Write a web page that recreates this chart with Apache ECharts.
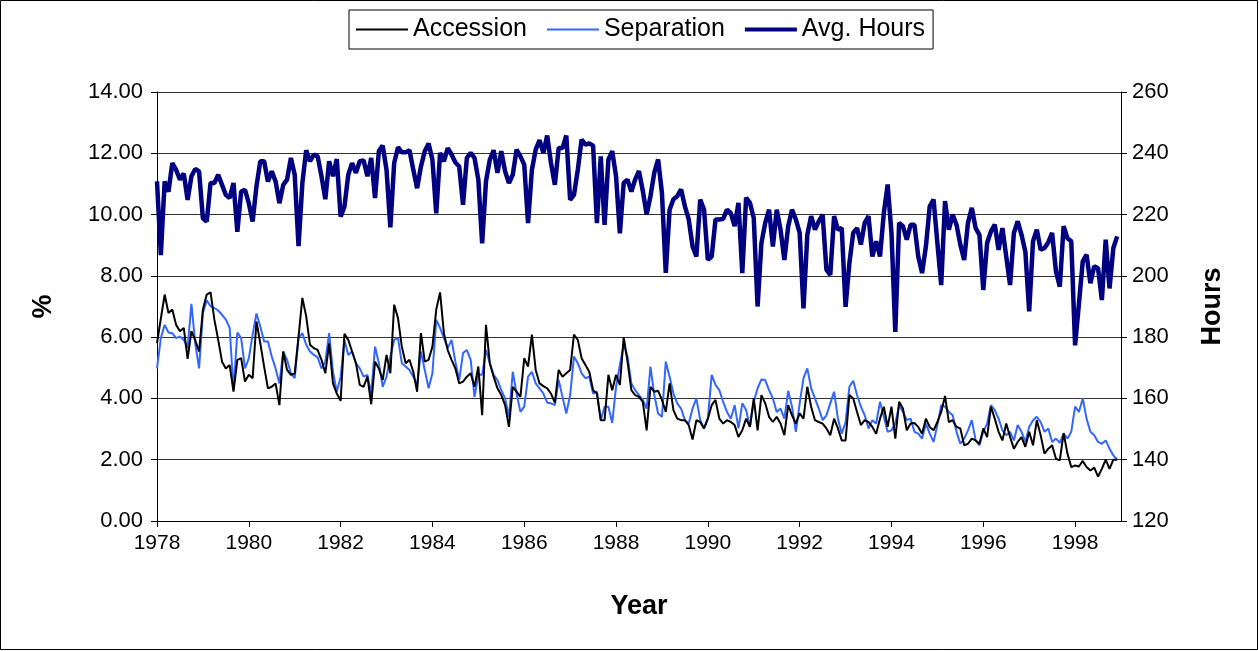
<!DOCTYPE html>
<html>
<head>
<meta charset="utf-8">
<script src="https://cdn.jsdelivr.net/npm/echarts@6/dist/echarts.min.js"></script>
<style>
html,body{margin:0;padding:0;background:#fff;}
#c{width:1259px;height:651px;}
</style>
</head>
<body>
<div id="c"></div>
<script>
// Monthly data, Jan 1978 .. Dec 1998
const startYear = 1978;
const xTickLabels = ['1978','1980','1982','1984','1986','1988','1990','1992','1994','1996','1998'];
const seriesNames = ['Accession','Separation','Avg. Hours'];

const accession = [
5.8,6.6,7.39,6.79,6.9,6.4,6.19,6.3,5.29,6.2,
5.9,5.53,6.9,7.39,7.46,6.57,5.91,5.2,4.98,5.09,
4.22,5.26,5.31,4.55,4.77,4.66,6.51,5.8,5.04,4.33,
4.38,4.49,3.78,5.53,4.93,4.77,4.82,6.02,7.28,6.68,
5.75,
5.64,5.58,5.26,4.82,5.8,4.49,4.16,3.92,6.11,5.91,
5.53,5.15,4.44,4.38,4.71,3.81,5.2,4.98,4.6,5.42,
4.82,7.06,6.62,5.69,5.15,5.26,4.87,4.22,6.13,5.2,
5.26,5.69,6.9,7.46,6.13,5.58,5.26,4.98,4.49,4.55,
4.71,4.82,4.38,
5.04,3.45,6.4,5.15,4.71,4.33,4.11,3.78,3.07,4.38,
4.22,4.05,5.31,5.04,6.08,4.93,4.49,4.4,4.33,4.16,
3.86,4.93,4.71,4.82,4.93,6.08,5.91,5.31,5.09,4.87,
4.27,4.16,3.29,3.29,4.77,4.27,4.77,4.44,6.0,5.2,
4.27,4.11,4.05,3.89,2.96,4.38,4.22,4.25,3.95,3.56,
4.49,3.62,3.34,3.29,3.29,3.13,2.66,3.29,3.23,3.02,
3.34,3.78,3.95,3.34,3.18,3.29,3.23,3.13,2.74,2.96,
3.34,3.07,4.0,2.96,4.11,3.84,3.4,3.23,3.4,3.18,
2.8,3.78,3.45,
3.18,3.51,3.34,4.38,3.73,3.29,3.23,3.18,3.02,2.8,
3.34,3.02,2.63,2.63,4.11,4.0,3.56,3.13,3.29,3.23,
3.07,2.85,3.34,3.73,3.07,3.73,2.69,3.89,3.67,2.96,
3.18,3.2,3.07,2.85,3.34,3.07,2.96,3.23,3.56,4.08,
3.23,3.29,
3.07,3.02,2.47,2.52,2.69,2.63,2.52,3.02,2.74,3.73,
3.34,2.91,2.63,3.18,2.74,2.36,2.58,2.74,2.42,2.91,
2.47,3.29,2.8,2.2,2.36,2.47,2.03,1.98,2.87,2.2,
1.76,1.81,1.78,1.96,1.76,1.65,1.74,1.45,1.7,2.0,
1.7,2.0,2.0
];

const separation = [
4.98,5.97,6.4,6.15,6.13,5.97,6.02,5.91,5.64,7.09,
5.8,4.98,6.79,7.2,7.01,6.95,6.87,6.73,6.57,6.3,
4.27,6.15,5.97,4.98,5.31,6.08,6.77,6.35,5.86,5.86,
5.37,4.98,4.49,5.53,5.26,4.82,4.66,5.97,6.13,5.75,
5.53,
5.42,5.34,4.98,5.2,6.13,4.87,4.22,4.71,5.91,5.42,
5.53,5.15,4.98,4.71,4.77,4.16,5.69,5.15,4.38,4.71,
5.37,5.91,5.97,5.15,5.04,4.93,4.71,4.44,5.53,4.93,
4.33,4.82,6.57,6.3,5.97,5.64,5.91,5.2,4.6,5.48,
5.58,5.26,4.05,
4.77,4.77,5.58,5.15,4.77,4.6,4.27,4.0,3.4,4.87,
4.16,3.56,3.73,4.71,4.87,4.49,4.33,4.16,3.86,3.84,
3.78,4.6,4.05,3.51,4.11,5.37,5.15,4.82,4.66,4.71,
4.16,4.22,3.29,3.73,3.73,3.2,4.38,5.09,5.75,5.37,
4.49,4.27,4.11,3.95,3.67,5.04,4.11,3.51,3.4,5.2,
4.71,4.16,3.84,3.67,3.29,3.18,3.67,4.0,3.29,3.02,
3.34,4.77,4.44,4.27,3.89,3.56,3.34,3.78,3.02,3.84,
3.62,3.07,3.89,4.33,4.62,4.6,4.27,4.0,3.56,3.67,
3.34,4.25,3.73,
2.91,3.84,4.66,4.98,4.33,4.0,3.67,3.29,3.45,3.84,
4.22,3.34,2.85,3.23,4.38,4.58,4.11,3.73,3.45,3.02,
3.29,3.18,3.89,3.4,2.91,2.96,3.18,3.78,3.56,3.29,
3.34,2.91,2.85,2.69,3.18,2.85,2.58,3.13,3.78,3.73,
3.56,3.45,
2.91,2.52,2.69,2.96,3.29,2.63,2.47,2.91,3.18,3.78,
3.62,3.34,2.96,2.8,2.91,2.63,3.13,2.91,2.58,3.07,
3.29,3.4,3.23,2.91,3.02,2.58,2.69,2.55,2.85,2.69,
2.91,3.73,3.56,4.0,3.34,2.91,2.8,2.58,2.52,2.63,
2.36,2.14,2.0
];

const avgHours = [
230.8,206.8,230.8,227.5,236.8,234.6,231.4,233.4,224.8,232.5,
234.9,234.1,218.8,217.7,230.3,230.3,233,229.7,226.4,225.4,
230.3,214.4,227.5,228.1,223.7,217.7,229.2,237.4,237.4,230.8,
234.1,230.8,223.7,229.7,231.4,238.5,233,209.7,230.3,241,
237.4,
239.6,239,232.5,225,237.4,232.5,238.1,219.3,222.6,233,
236.8,233.6,237.4,237.7,232.5,238.5,225.4,240.7,242.5,234.6,
215.8,236.8,242,240.3,240.3,241,234.6,228.6,235.7,240.7,
243.2,237.9,220.4,240.1,237.4,241.7,239.6,237,235.7,223.2,
238.5,240.1,238.5,
231.4,210.6,230.8,237.9,241,233.6,240.7,234.1,230.3,233,
241.2,239,236.3,217.2,234.6,241.2,244.3,240.1,245.8,236.8,
229.7,241.7,241.7,245.8,224.8,226.4,234.6,244.5,242.8,243.2,
242.5,217.2,239,216.6,237.9,240.7,232.5,213.9,230.3,231.4,
227.5,
231.5,234.2,227.7,220,226,233.7,238,227,201,221.6,
225,226,228.2,222.7,218.4,209.6,206.3,224.9,221.6,205.2,
206.3,218.4,218.4,218.6,221.6,220.5,216.2,223.8,200.9,225.5,
223.8,218.9,190,210.7,217.3,221.6,209.6,221.6,215.1,205.2,
216.2,221.6,
218.4,214,189.4,213.4,219.5,215.1,217.8,220,202,200.3,
219.5,215.1,215.6,189.9,204.2,214,215.6,210.2,217.3,219.5,
206.3,211.3,206.3,220.5,229.8,214,181.7,217.3,216.2,211.8,
216.7,216.7,206.3,200.9,209.6,222.7,224.9,210.7,197,224.4,
215.1,
220,216.7,210.2,205.2,217.3,222.2,215.6,213.4,195.4,210.7,
214.5,216.7,208.5,215.6,206.3,197,214,217.8,213.4,207.9,
188.4,211.3,215.1,208.5,209.1,211,214,201.4,196.5,216.2,
212.3,211.3,177.3,190.9,204.7,206.9,197.6,203.1,202.5,192.1,
211.8,195.9,209.1,212.9
];

function toXY(arr){ return arr.map((v,i)=>[startYear + i/12, v]); }

const FONT = '"Liberation Sans", Arial, sans-serif';
const chart = echarts.init(document.getElementById('c'), null, {renderer:'canvas'});
chart.setOption({
  animation:false,
  backgroundColor:'#fff',
  textStyle:{fontFamily:FONT},
  graphic:[{type:'rect',shape:{x:0.5,y:0.5,width:1257,height:649},style:{fill:'none',stroke:'#000',lineWidth:1},silent:true}],
  legend:{
    top:10, left:349,
    data:[
      {name:seriesNames[0], icon:'path://M0,0 L50,0 L50,2 L0,2 Z', itemStyle:{color:'#000000'}},
      {name:seriesNames[1], icon:'path://M0,0 L50,0 L50,2 L0,2 Z', itemStyle:{color:'#3366ff'}},
      {name:seriesNames[2], icon:'path://M0,0 L50,0 L50,4 L0,4 Z', itemStyle:{color:'#000080'}}
    ],
    borderColor:'#000', borderWidth:1, padding:[7,8,7,7],
    itemWidth:52, itemHeight:14, itemGap:20,
    textStyle:{fontSize:25,color:'#000',fontFamily:FONT}
  },
  grid:{left:157,right:138,top:92,bottom:130,containLabel:false},
  xAxis:{
    type:'value', min:1978, max:1999, interval:2,
    name:'Year', nameLocation:'middle', nameGap:72,
    nameTextStyle:{fontSize:27,fontWeight:'bold',color:'#000',fontFamily:FONT},
    axisLine:{show:true,lineStyle:{color:'#000',width:1}},
    axisTick:{show:true,inside:false,length:6,lineStyle:{color:'#000'}},
    axisLabel:{fontSize:21,color:'#000',margin:12,showMaxLabel:false,
      formatter:function(v){ const s=String(Math.round(v)); return xTickLabels.indexOf(s)>=0 ? s : ''; }},
    splitLine:{show:false}
  },
  yAxis:[{
    type:'value', min:0, max:14, interval:2, position:'left',
    name:'%', nameLocation:'middle', nameGap:100, nameRotate:90,
    nameTextStyle:{fontSize:27,fontWeight:'bold',color:'#000',fontFamily:FONT},
    axisLine:{show:true,lineStyle:{color:'#000',width:1}},
    axisTick:{show:true,length:6,lineStyle:{color:'#000'}},
    axisLabel:{fontSize:22,color:'#000',margin:14,formatter:v=>v.toFixed(2)},
    splitLine:{show:true,lineStyle:{color:'#333',width:1}}
  },{
    type:'value', min:120, max:260, interval:20, position:'right',
    name:'Hours', nameLocation:'middle', nameGap:78, nameRotate:90,
    nameTextStyle:{fontSize:27,fontWeight:'bold',color:'#000',fontFamily:FONT},
    axisLine:{show:true,lineStyle:{color:'#000',width:1}},
    axisTick:{show:true,length:6,lineStyle:{color:'#000'}},
    axisLabel:{fontSize:22,color:'#000',margin:11},
    splitLine:{show:false}
  }],
  series:[
    {name:seriesNames[0],type:'line',yAxisIndex:0,data:toXY(accession),symbol:'none',
     lineStyle:{color:'#000000',width:2},itemStyle:{color:'#000000'},z:3},
    {name:seriesNames[1],type:'line',yAxisIndex:0,data:toXY(separation),symbol:'none',
     lineStyle:{color:'#3366ff',width:2},itemStyle:{color:'#3366ff'},z:2},
    {name:seriesNames[2],type:'line',yAxisIndex:1,data:toXY(avgHours),symbol:'none',
     lineStyle:{color:'#000080',width:4.5},itemStyle:{color:'#000080'},z:4}
  ]
});
</script>
</body>
</html>
